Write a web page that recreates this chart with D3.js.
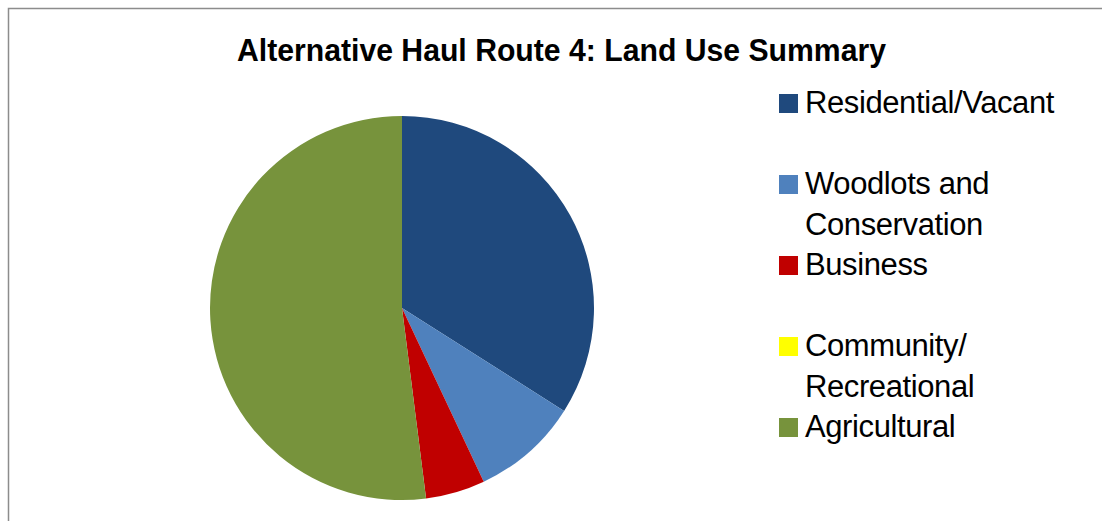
<!DOCTYPE html>
<html>
<head>
<meta charset="utf-8">
<script src="https://cdn.jsdelivr.net/npm/d3@7"></script>
<style>
  html, body { margin: 0; padding: 0; background: #fff; }
  svg { display: block; }
  text { font-family: "Liberation Sans", Arial, sans-serif; fill: #000; }
</style>
</head>
<body>
<script>
const title = "Alternative Haul Route 4: Land Use Summary";
const categories = ["Residential/Vacant", "Woodlots and Conservation", "Business", "Community/ Recreational", "Agricultural"];
const legendLines = [["Residential/Vacant"], ["Woodlots and", "Conservation"], ["Business"], ["Community/", "Recreational"], ["Agricultural"]];
const values = [34, 9, 5, 0, 52];
const colors = ["#1F497D", "#4F81BD", "#C00000", "#FFFF00", "#77933C"];

const W = 1102, H = 521;
const svg = d3.select("body").append("svg").attr("width", W).attr("height", H);

// frame
svg.append("rect").attr("x", 8.5).attr("y", 8.5).attr("width", W + 20).attr("height", H + 20)
  .attr("fill", "none").attr("stroke", "#8c8c8c").attr("stroke-width", 1.5);

// title
svg.append("text").attr("x", 561.5).attr("y", 61).attr("text-anchor", "middle")
  .attr("font-size", 31).attr("font-weight", "bold")
  .attr("textLength", 649).attr("lengthAdjust", "spacingAndGlyphs")
  .text(title);

// pie
const cx = 402, cy = 308, r = 192;
const pie = d3.pie().sort(null).value(d => d);
const arc = d3.arc().innerRadius(0).outerRadius(r);
const g = svg.append("g").attr("transform", `translate(${cx},${cy})`);
g.selectAll("path").data(pie(values)).join("path")
  .attr("d", arc)
  .attr("fill", (d, i) => colors[i]);

// legend
const lineH = 40.5;
const leg = svg.append("g");
categories.forEach((c, i) => {
  const baseY = 113 + i * 2 * lineH;
  leg.append("rect").attr("x", 779).attr("y", baseY - 19).attr("width", 19).attr("height", 19)
    .attr("fill", colors[i]);
  legendLines[i].forEach((ln, j) => {
    leg.append("text").attr("x", 805).attr("y", baseY + j * lineH)
      .attr("font-size", 31).attr("letter-spacing", "-0.4px")
      .text(ln);
  });
});
</script>
</body>
</html>
